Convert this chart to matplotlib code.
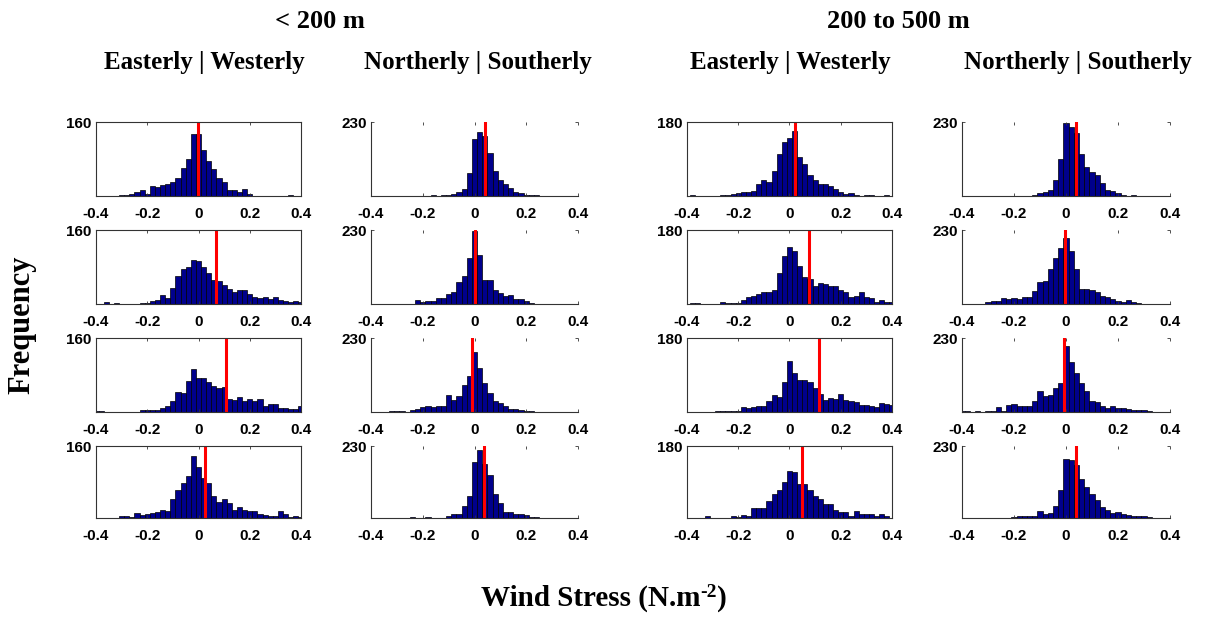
import numpy as np
import matplotlib
matplotlib.use('Agg')
import matplotlib.pyplot as plt

plt.rcParams['axes.unicode_minus'] = False

# histogram bin centres (0.02 wide)
centers = np.round(np.arange(-0.4, 0.4001, 0.02), 2)

# < 200 m, easterly | westerly, rows top to bottom
ew_near_1 = [0, 0, 1, 1, 0, 2, 3, 4, 8, 12, 5, 22, 20, 23, 26, 31, 40, 60, 80, 133,
             135, 100, 75, 58, 38, 30, 12, 12, 8, 15, 5, 1, 1, 1, 1, 1, 1, 1, 2, 1, 0]
ew_near_2 = [0, 0, 5, 0, 2, 0, 0, 0, 1, 3, 3, 6, 9, 20, 14, 35, 60, 75, 80, 95,
             92, 80, 66, 52, 50, 42, 32, 25, 30, 30, 22, 15, 12, 15, 11, 15, 8, 6, 4, 7, 5]
ew_near_3 = [2, 2, 0, 0, 0, 0, 1, 1, 1, 4, 4, 4, 4, 8, 13, 24, 44, 42, 66, 94,
             73, 74, 64, 57, 51, 53, 28, 25, 33, 24, 28, 24, 28, 13, 18, 18, 9, 9, 6, 6, 12]
ew_near_4 = [0, 0, 0, 0, 1, 4, 4, 3, 11, 7, 10, 11, 13, 18, 15, 43, 62, 77, 94, 138,
             114, 89, 77, 48, 35, 43, 33, 18, 24, 17, 15, 15, 8, 6, 4, 4, 15, 8, 2, 4, 2]

# < 200 m, northerly | southerly
ns_near_1 = [0, 0, 0, 0, 0, 0, 0, 0, 0, 1, 0, 0, 2, 0, 2, 3, 5, 11, 22, 72,
             177, 198, 185, 135, 79, 51, 38, 25, 12, 8, 4, 3, 2, 0, 0, 0, 0, 0, 0, 0, 0]
ns_near_2 = [0, 0, 0, 0, 0, 0, 0, 0, 0, 13, 5, 10, 8, 18, 20, 30, 37, 69, 87, 144,
             228, 151, 76, 76, 42, 35, 25, 28, 15, 15, 8, 2, 0, 0, 0, 0, 0, 0, 0, 0, 0]
ns_near_3 = [0, 0, 0, 0, 3, 3, 3, 0, 5, 9, 14, 20, 14, 18, 18, 54, 38, 51, 85, 111,
             185, 137, 90, 59, 33, 28, 20, 9, 9, 5, 4, 4, 0, 0, 0, 0, 0, 0, 0, 0, 0]
ns_near_4 = [0, 0, 0, 0, 0, 0, 0, 0, 3, 0, 0, 3, 0, 0, 0, 5, 12, 12, 37, 70,
             180, 217, 174, 137, 78, 48, 19, 19, 12, 12, 9, 3, 2, 0, 0, 0, 0, 0, 0, 0, 0]

# 200 to 500 m, easterly | westerly
ew_far_1 = [0, 2, 0, 0, 1, 1, 1, 2, 3, 5, 8, 9, 10, 12, 28, 38, 35, 62, 102, 132,
            142, 158, 95, 78, 50, 38, 28, 28, 24, 18, 10, 5, 7, 3, 1, 2, 2, 1, 0, 2, 0]
ew_far_2 = [0, 2, 3, 0, 0, 0, 1, 5, 2, 2, 2, 10, 16, 19, 24, 30, 30, 35, 76, 117,
            139, 130, 93, 65, 60, 45, 50, 48, 45, 45, 33, 30, 18, 20, 28, 17, 15, 5, 10, 6, 4]
ew_far_3 = [0, 0, 0, 0, 0, 1, 2, 2, 2, 2, 2, 12, 9, 12, 15, 15, 27, 42, 37, 72,
            125, 94, 77, 77, 72, 59, 45, 28, 35, 31, 43, 28, 27, 25, 17, 17, 15, 12, 23, 20, 17]
ew_far_4 = [0, 0, 0, 0, 6, 0, 0, 0, 0, 5, 3, 8, 4, 25, 25, 25, 42, 59, 69, 90,
            118, 115, 84, 84, 70, 56, 48, 35, 35, 20, 14, 14, 6, 17, 10, 10, 10, 4, 10, 4, 0]

# 200 to 500 m, northerly | southerly
ns_far_1 = [0, 0, 0, 0, 0, 0, 0, 0, 0, 0, 1, 0, 0, 0, 2, 10, 12, 20, 50, 114,
            227, 216, 195, 130, 90, 75, 65, 40, 20, 17, 8, 3, 0, 3, 0, 0, 0, 0, 0, 0, 0]
ns_far_2 = [0, 0, 0, 0, 0, 5, 8, 8, 18, 16, 18, 14, 22, 22, 40, 68, 70, 110, 143, 175,
            204, 165, 110, 47, 47, 42, 37, 26, 22, 14, 8, 5, 11, 5, 3, 0, 0, 0, 0, 0, 0]
ns_far_3 = [4, 2, 0, 3, 0, 3, 2, 15, 3, 22, 25, 18, 18, 18, 35, 64, 49, 54, 75, 90,
            204, 154, 121, 90, 64, 33, 30, 18, 12, 18, 12, 13, 8, 5, 5, 5, 3, 0, 0, 0, 0]
ns_far_4 = [0, 0, 0, 0, 0, 0, 0, 0, 0, 0, 3, 5, 5, 5, 5, 21, 14, 16, 37, 91,
            190, 185, 169, 126, 99, 78, 57, 35, 27, 16, 19, 14, 8, 6, 6, 6, 3, 0, 0, 0, 0]

# mean wind stress (red line) per panel
mean_ew_near = [-0.002, 0.068, 0.107, 0.027]
mean_ns_near = [0.040, 0.003, -0.011, 0.035]
mean_ew_far = [0.021, 0.076, 0.116, 0.050]
mean_ns_far = [0.038, -0.002, -0.008, 0.038]

ymax = [160, 230, 180, 230]
col_titles = ['Easterly | Westerly', 'Northerly | Southerly',
              'Easterly | Westerly', 'Northerly | Southerly']
group_titles = ['< 200 m', '200 to 500 m']
xticks = [-0.4, -0.2, 0, 0.2, 0.4]
xticklabels = ['-0.4', '-0.2', '0', '0.2', '0.4']

columns = [
    [ew_near_1, ew_near_2, ew_near_3, ew_near_4],
    [ns_near_1, ns_near_2, ns_near_3, ns_near_4],
    [ew_far_1, ew_far_2, ew_far_3, ew_far_4],
    [ns_far_1, ns_far_2, ns_far_3, ns_far_4],
]
means = [mean_ew_near, mean_ns_near, mean_ew_far, mean_ns_far]

W, H = 1212, 619
fig = plt.figure(figsize=(W / 100, H / 100), dpi=100)

# panel placement in pixels
col_x = [(96, 301), (371, 578), (687, 892), (962, 1170)]
row_y = [(122, 196), (230, 304), (338, 412), (446, 518)]

tick_font = dict(family='Liberation Sans', fontweight='bold', fontsize=11)

for c in range(4):
    boxed = c in (0, 2)
    for r in range(4):
        l, rr = col_x[c]
        t, b = row_y[r]
        ax = fig.add_axes([l / W, 1 - b / H, (rr - l) / W, (b - t) / H])
        ax.bar(centers, columns[c][r], width=0.02, color='#00008C',
               edgecolor='black', linewidth=0.5)
        ax.plot([means[c][r], means[c][r]], [0, ymax[c]], color='#FF0000', lw=2.2)
        ax.set_xlim(-0.4, 0.4)
        ax.set_ylim(0, ymax[c])
        ax.set_xticks(xticks)
        ax.set_xticklabels(xticklabels, **tick_font)
        ax.set_yticks([ymax[c]])
        ax.set_yticklabels([str(ymax[c])], **tick_font)
        ax.tick_params(direction='in', length=2.5, width=0.6, top=True, right=True,
                       color='#333333')
        ax.tick_params(axis='x', pad=8)
        ax.tick_params(axis='y', pad=3)
        for side in ['left', 'right', 'top', 'bottom']:
            ax.spines[side].set_color('#333333')
            ax.spines[side].set_linewidth(0.8)
        if not boxed:
            ax.spines['top'].set_visible(False)
            ax.spines['right'].set_visible(False)

serif = 'Liberation Serif'
fig.text(320 / W, 1 - 21 / H, group_titles[0], ha='center', va='center',
         family=serif, fontweight='bold', fontsize=19)
fig.text(898 / W, 1 - 21 / H, group_titles[1], ha='center', va='center',
         family=serif, fontweight='bold', fontsize=19)

for x, label in zip([204, 478, 790, 1078], col_titles):
    fig.text(x / W, 1 - 63 / H, label, ha='center', va='center',
             family=serif, fontweight='bold', fontsize=18)

fig.text(22 / W, 1 - 325 / H, 'Frequency', rotation=90, ha='center', va='center',
         family=serif, fontweight='bold', fontsize=22)

# x label with a plain hyphen in the exponent, built from three pieces
renderer = fig.canvas.get_renderer()
pieces = [('Wind Stress (N.m', 21, 0), ('-2', 14, 9), (')', 21, 0)]
base_y = 606
widths = []
for s, size, _ in pieces:
    t = fig.text(0, 0, s, family=serif, fontweight='bold', fontsize=size)
    widths.append(t.get_window_extent(renderer).width)
    t.remove()
x0 = 604 - sum(widths) / 2
for (s, size, rise), w in zip(pieces, widths):
    fig.text(x0 / W, 1 - (base_y - rise) / H, s, ha='left', va='baseline',
             family=serif, fontweight='bold', fontsize=size)
    x0 += w

fig.savefig('out.png', dpi=100)
